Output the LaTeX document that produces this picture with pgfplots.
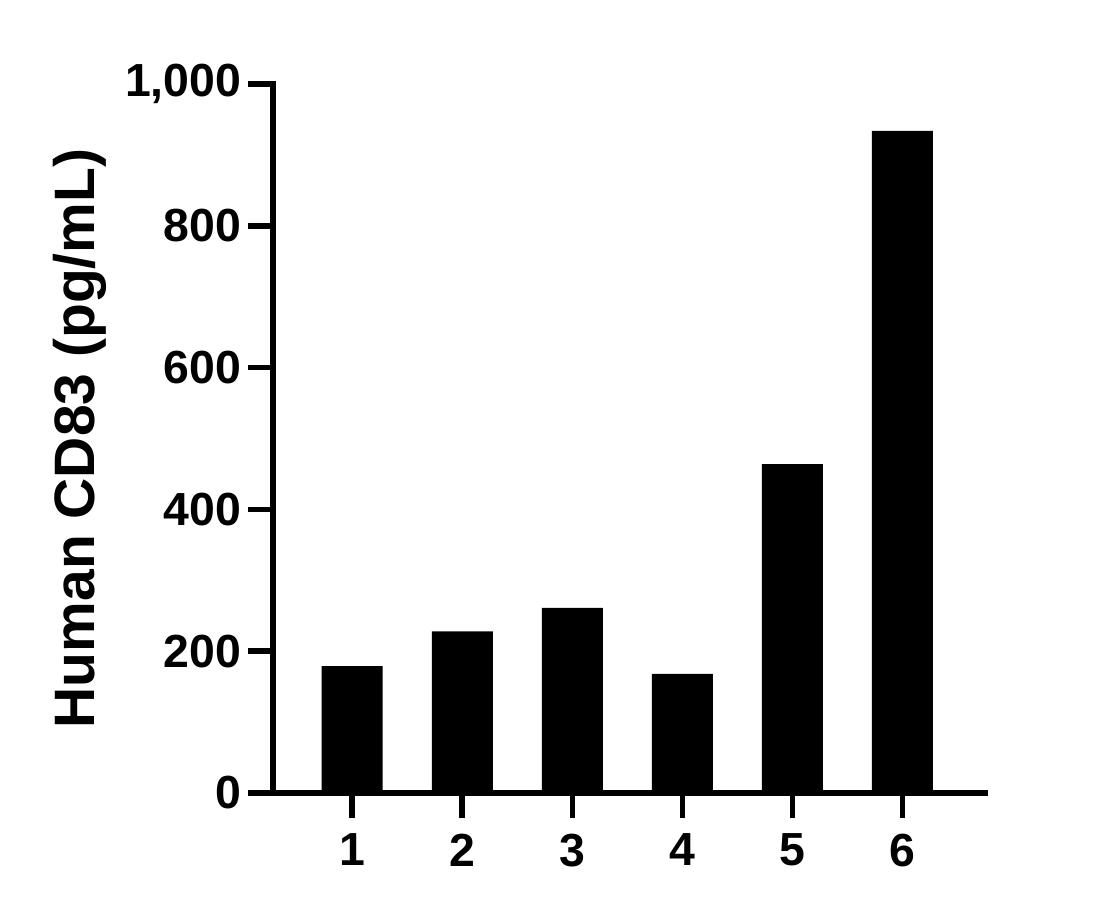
\documentclass[border=0pt]{standalone}
\usepackage{fontspec}
\setmainfont{Liberation Sans}
\usepackage{pgfplots}
\pgfplotsset{compat=1.18}

\begin{document}
\begin{tikzpicture}
% whole picture is 1120 x 909 px, 1 px = 0.25pt
\path[use as bounding box] (0,0) rectangle (280pt,227.25pt);
\begin{axis}[
    at={(68.25pt,29pt)},
    anchor=south west,
    scale only axis,
    width=178pt,
    height=177.25pt,
    xmin=0.28, xmax=6.75,
    ymin=0, ymax=1000,
    axis x line*=bottom,
    axis y line*=left,
    axis line style={line width=1.4pt, line cap=rect},
    every tick/.style={black, line width=1.4pt},
    tick align=outside,
    major tick length=6.25pt,
    xtick={1,2,3,4,5,6},
    ytick={0,200,400,600,800,1000},
    /pgf/number format/assume math mode=true,
    /pgf/number format/1000 sep={,},
    tick label style={font=\fontsize{11.6}{13}\selectfont\bfseries, inner sep=0pt},
    xticklabel style={anchor=north, yshift=-3.8pt},
    yticklabel style={anchor=east, xshift=-1.5pt},
    ylabel={Human CD83 (pg/mL)},
    ylabel style={font=\fontsize{14.25}{16}\selectfont\bfseries,
        at={(axis description cs:-0.251,0.5)}, anchor=base, inner sep=0pt},
    ybar, bar width=15.25pt, bar shift=0pt,
]
\addplot[fill=black, draw=none] coordinates {
    (1,179) (2,228) (3,261) (4,168) (5,464) (6,934)
};
\end{axis}
\end{tikzpicture}
\end{document}
